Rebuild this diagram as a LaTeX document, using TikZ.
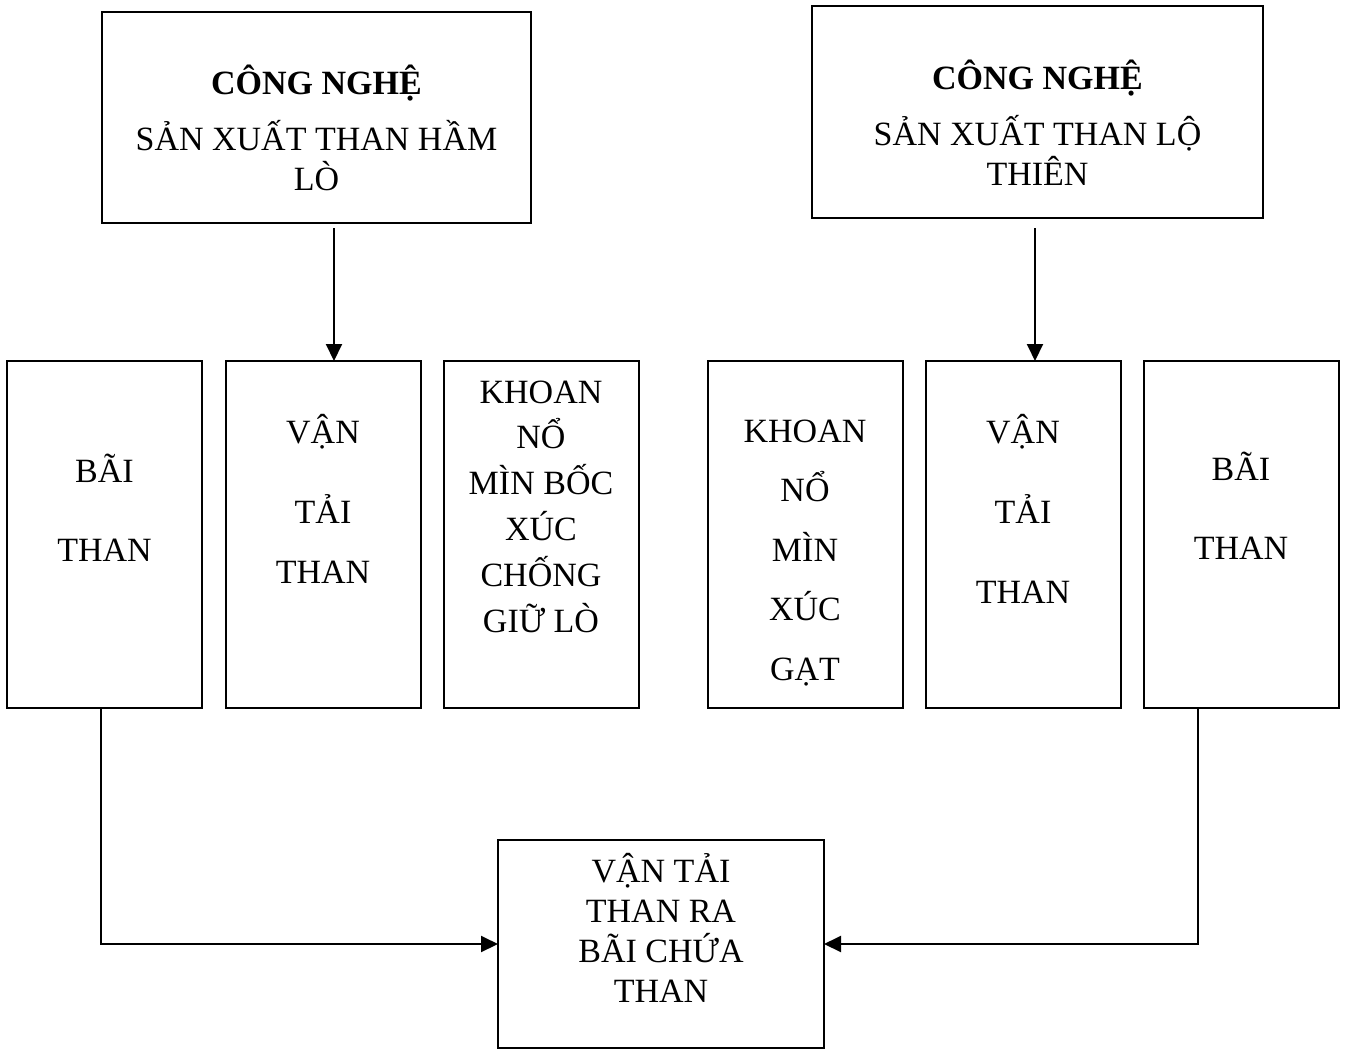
\documentclass[tikz,border=0pt]{standalone}
\usepackage{fontspec}
\setmainfont{Liberation Serif}
\usetikzlibrary{arrows.meta}

% centred lines with a fixed baseline pitch; baseline of the box = first line
\newcommand{\stack}[2]{\vtop{\baselineskip=#1\lineskiplimit=-16000pt\lineskip=0pt
  \halign{\hfil##\hfil\cr#2\crcr}}}

\begin{document}
\begin{tikzpicture}[x=1pt,y=-1pt,
  box/.style={draw=black,line width=2pt,rectangle,inner sep=0pt,outer sep=0pt},
  txt/.style={inner sep=0pt,anchor=base,font=\fontsize{34}{40}\selectfont},
  arr/.style={line width=2pt,-{Triangle[length=17pt,width=16pt]}},
  link/.style={line width=2pt}]

\useasboundingbox (0,0) rectangle (1347,1050);
\fill[white] (0,0) rectangle (1347,1050);

% top boxes
\node[box,minimum width=429pt,minimum height=211pt] (tl) at (316.5,117.5) {};
\node[box,minimum width=451pt,minimum height=212pt] (tr) at (1037.5,112) {};

% middle row
\foreach \n/\cx in {b1/104.5,b2/323,b3/541,b4/805,b5/1023,b6/1241}
  \node[box,minimum width=195pt,minimum height=347pt] (\n) at (\cx,534.5) {};

% bottom box
\node[box,minimum width=326pt,minimum height=208pt] (bot) at (661,944) {};

% texts
\node[txt] (tlt) at (316.5,94) {\stack{40pt}{\textbf{CÔNG NGHỆ}\cr\noalign{\vskip16pt}SẢN XUẤT THAN HẦM\cr LÒ\cr}};
\node[txt] (trt) at (1037.5,89) {\stack{40pt}{\textbf{CÔNG NGHỆ}\cr\noalign{\vskip16pt}SẢN XUẤT THAN LỘ\cr THIÊN\cr}};

\node[txt] (b1t) at (104.5,482) {\stack{79pt}{BÃI\cr THAN\cr}};
\node[txt] (b2t) at (323,443) {\stack{60pt}{VẬN\cr\noalign{\vskip20pt}TẢI\cr THAN\cr}};
\node[txt] (b3t) at (541,403) {\stack{45.8pt}{KHOAN\cr NỔ\cr MÌN BỐC\cr XÚC\cr CHỐNG\cr GIỮ LÒ\cr}};
\node[txt] (b4t) at (805,442) {\stack{59.5pt}{KHOAN\cr NỔ\cr MÌN\cr XÚC\cr GẠT\cr}};
\node[txt] (b5t) at (1023,443) {\stack{80pt}{VẬN\cr TẢI\cr THAN\cr}};
\node[txt] (b6t) at (1241,480) {\stack{79pt}{BÃI\cr THAN\cr}};
\node[txt] (bott) at (661,882) {\stack{40pt}{VẬN TẢI\cr THAN RA\cr BÃI CHỨA\cr THAN\cr}};

% arrows from the two technologies
\draw[arr,shorten <=5pt] ([xshift=17.5pt]tl.south) -- ([xshift=17.5pt]tl.south |- b2.north);
\draw[arr,shorten <=10pt] ([xshift=-2.5pt]tr.south) -- ([xshift=-2.5pt]tr.south |- b5.north);

% coal yards to the final transport
\draw[arr] ([xshift=-3.5pt]b1.south) |- (bot.west);
\draw[arr] ([xshift=-43pt]b6.south) |- (bot.east);

\end{tikzpicture}
\end{document}
